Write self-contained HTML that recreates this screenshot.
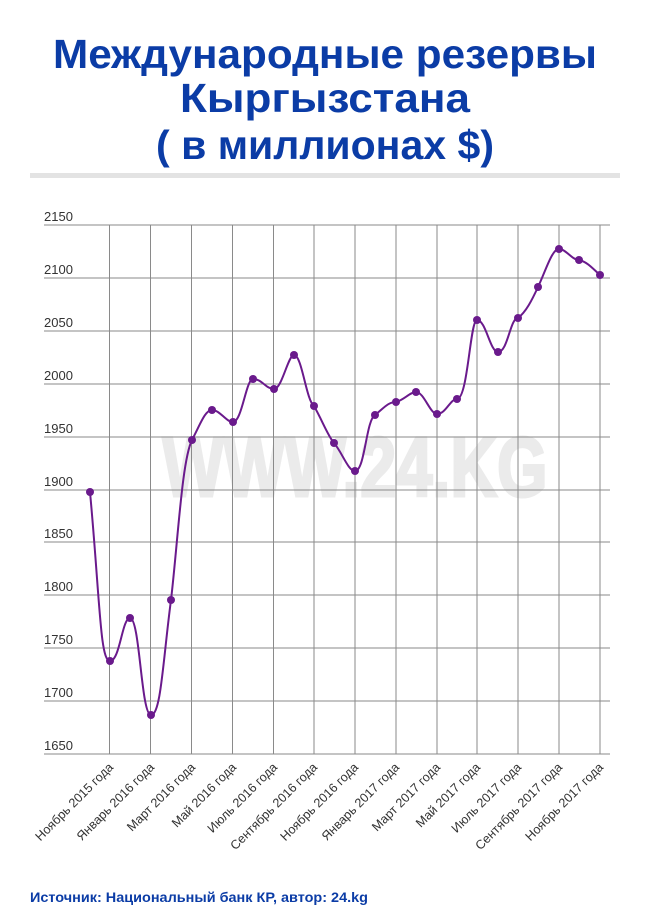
<!DOCTYPE html>
<html><head><meta charset="utf-8"><style>
body{margin:0;background:#fff;width:650px;height:919px;overflow:hidden;font-family:"Liberation Sans",sans-serif}
</style></head><body>
<svg width="650" height="919" xmlns="http://www.w3.org/2000/svg" font-family="Liberation Sans, sans-serif">
<g fill="#0b3ca6" font-weight="bold" font-size="41" text-anchor="middle">
<text x="325" y="68" textLength="544" lengthAdjust="spacingAndGlyphs">Международные резервы</text>
<text x="325" y="112" textLength="290" lengthAdjust="spacingAndGlyphs">Кыргызстана</text>
<text x="325" y="159" textLength="338" lengthAdjust="spacingAndGlyphs">( в миллионах $)</text>
</g>
<rect x="30" y="173" width="590" height="5" fill="#e3e3e3"/>
<text x="355" y="496" font-size="84" font-weight="bold" fill="#ebebeb" stroke="#ebebeb" stroke-width="3" text-anchor="middle" textLength="385" lengthAdjust="spacingAndGlyphs">WWW.24.KG</text>
<g stroke="#8a8a8a" stroke-width="1">
<line x1="44" y1="225" x2="610" y2="225"/><line x1="44" y1="278" x2="610" y2="278"/>
<line x1="44" y1="331" x2="610" y2="331"/><line x1="44" y1="384" x2="610" y2="384"/>
<line x1="44" y1="437" x2="610" y2="437"/><line x1="44" y1="490" x2="610" y2="490"/>
<line x1="44" y1="542" x2="610" y2="542"/><line x1="44" y1="595" x2="610" y2="595"/>
<line x1="44" y1="648" x2="610" y2="648"/><line x1="44" y1="701" x2="610" y2="701"/>
<line x1="44" y1="754" x2="610" y2="754"/>
<line x1="109.5" y1="225" x2="109.5" y2="754"/><line x1="150.5" y1="225" x2="150.5" y2="754"/>
<line x1="191.5" y1="225" x2="191.5" y2="754"/><line x1="232.5" y1="225" x2="232.5" y2="754"/>
<line x1="273.5" y1="225" x2="273.5" y2="754"/><line x1="314" y1="225" x2="314" y2="754"/>
<line x1="355" y1="225" x2="355" y2="754"/><line x1="396" y1="225" x2="396" y2="754"/>
<line x1="437" y1="225" x2="437" y2="754"/><line x1="477" y1="225" x2="477" y2="754"/>
<line x1="518" y1="225" x2="518" y2="754"/><line x1="559" y1="225" x2="559" y2="754"/>
<line x1="600" y1="225" x2="600" y2="754"/>
</g>
<g font-size="13" fill="#333">
<text x="44" y="221">2150</text><text x="44" y="274">2100</text><text x="44" y="327">2050</text>
<text x="44" y="380">2000</text><text x="44" y="433">1950</text><text x="44" y="486">1900</text>
<text x="44" y="538">1850</text><text x="44" y="591">1800</text><text x="44" y="644">1750</text>
<text x="44" y="697">1700</text><text x="44" y="750">1650</text>
</g>
<g font-size="12.6" fill="#333" text-anchor="end">
<text transform="translate(114,768) rotate(-45)">Ноябрь 2015 года</text>
<text transform="translate(155,768) rotate(-45)">Январь 2016 года</text>
<text transform="translate(196,768) rotate(-45)">Март 2016 года</text>
<text transform="translate(237,768) rotate(-45)">Май 2016 года</text>
<text transform="translate(278,768) rotate(-45)">Июль 2016 года</text>
<text transform="translate(318,768) rotate(-45)">Сентябрь 2016 года</text>
<text transform="translate(359,768) rotate(-45)">Ноябрь 2016 года</text>
<text transform="translate(400,768) rotate(-45)">Январь 2017 года</text>
<text transform="translate(441,768) rotate(-45)">Март 2017 года</text>
<text transform="translate(481,768) rotate(-45)">Май 2017 года</text>
<text transform="translate(522,768) rotate(-45)">Июль 2017 года</text>
<text transform="translate(563,768) rotate(-45)">Сентябрь 2017 года</text>
<text transform="translate(604,768) rotate(-45)">Ноябрь 2017 года</text>
</g>
<path fill="none" stroke="#6a1a8c" stroke-width="2" d="M90,492 C100,600 100,661 110,661 C120,661 122,618 130,618 C140,618 141,715 151,715 C161,715 163,660 171,600 C178,540 182,460 192,440 C200,425 205,410 212,410 C220,410 226,422 233,422 C242,422 246,379 253,379 C262,379 266,389 274,389 C282,389 288,355 294,355 C302,355 306,400 314,406 C322,420 328,436 334,443 C342,452 348,471 355,471 C365,471 366,420 375,415 C384,408 388,402 396,402 C404,400 410,392 416,392 C424,392 430,414 437,414 C446,414 450,399 457,399 C468,399 470,320 477,320 C486,320 490,352 498,352 C508,352 510,318 518,318 C526,312 532,300 538,287 C546,270 552,249 559,249 C566,249 572,260 579,260 C588,262 594,270 600,275"/>
<g fill="#6a1a8c">
<circle cx="90" cy="492" r="4"/><circle cx="110" cy="661" r="4"/><circle cx="130" cy="618" r="4"/>
<circle cx="151" cy="715" r="4"/><circle cx="171" cy="600" r="4"/><circle cx="192" cy="440" r="4"/>
<circle cx="212" cy="410" r="4"/><circle cx="233" cy="422" r="4"/><circle cx="253" cy="379" r="4"/>
<circle cx="274" cy="389" r="4"/><circle cx="294" cy="355" r="4"/><circle cx="314" cy="406" r="4"/>
<circle cx="334" cy="443" r="4"/><circle cx="355" cy="471" r="4"/><circle cx="375" cy="415" r="4"/>
<circle cx="396" cy="402" r="4"/><circle cx="416" cy="392" r="4"/><circle cx="437" cy="414" r="4"/>
<circle cx="457" cy="399" r="4"/><circle cx="477" cy="320" r="4"/><circle cx="498" cy="352" r="4"/>
<circle cx="518" cy="318" r="4"/><circle cx="538" cy="287" r="4"/><circle cx="559" cy="249" r="4"/>
<circle cx="579" cy="260" r="4"/><circle cx="600" cy="275" r="4"/>
</g>
<text x="30" y="902" font-size="14" font-weight="bold" fill="#0b3ca6" textLength="338" lengthAdjust="spacingAndGlyphs">Источник: Национальный банк КР, автор: 24.kg</text>
</svg>
</body></html>
